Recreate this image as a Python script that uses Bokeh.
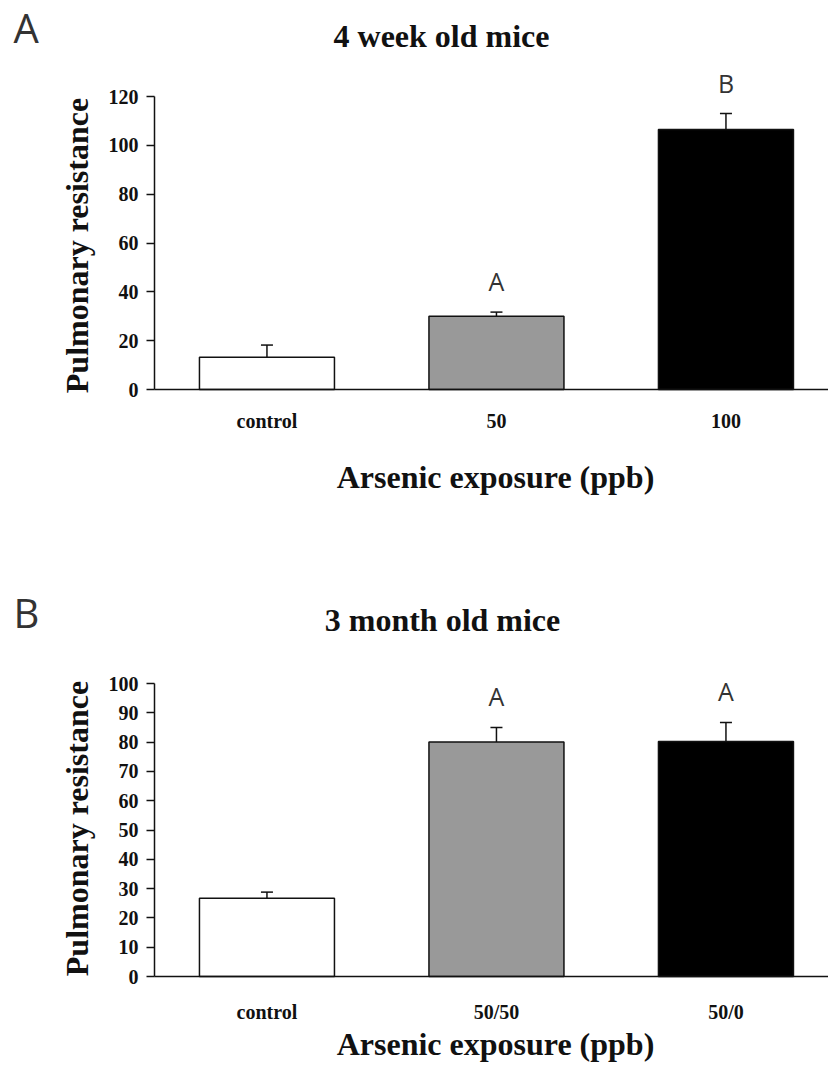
import math
from bokeh.plotting import figure
from bokeh.models import ColumnDataSource, Range1d, Label, Whisker, TeeHead, FixedTicker
from bokeh.layouts import column
from bokeh.embed import file_html
from bokeh.resources import INLINE

# ---------------- data ----------------
cats_a = ["control", "50", "100"]
vals_a = [13.2, 30.0, 106.5]
errs_a = [5.0, 1.7, 6.5]
sig_a = ["", "A", "B"]
ticks_a = [0, 20, 40, 60, 80, 100, 120]
ymax_a = 120

cats_b = ["control", "50/50", "50/0"]
vals_b = [26.7, 80.0, 80.2]
errs_b = [2.1, 5.0, 6.5]
sig_b = ["", "A", "A"]
ticks_b = [0, 10, 20, 30, 40, 50, 60, 70, 80, 90, 100]
ymax_b = 100

bar_colors = ["#ffffff", "#999999", "#000000"]

title_a = "4 week old mice"
title_b = "3 month old mice"
xlabel = "Arsenic exposure (ppb)"
ylabel = "Pulmonary resistance"

# ---------------- layout (canvas px) ----------------
FIG_W = 828
AXIS_X = 154          # canvas x of the y axis
UNIT_X = 229.5        # px per category
SERIF = "Liberation Serif"
SANS = "Open Sans"
INK = "#111111"
LIFT = 0.4            # baseline correction, in em


def make_panel(cats, vals, errs, sig, ticks, ymax, title, letter,
               fig_h, zero_y, unit_y, x_standoff, pos):
    """zero_y: local canvas y of value 0; unit_y: px per data unit."""
    x0 = -AXIS_X / UNIT_X
    x1 = (FIG_W - AXIS_X) / UNIT_X
    y0 = (zero_y - fig_h) / unit_y
    y1 = zero_y / unit_y
    p = figure(x_range=Range1d(x0, x1), y_range=Range1d(y0, y1),
               width=FIG_W, height=fig_h,
               min_border_left=0, min_border_right=0,
               min_border_top=0, min_border_bottom=0,
               output_backend="svg", toolbar_location=None)
    p.outline_line_color = None
    p.background_fill_color = "white"
    p.border_fill_color = "white"
    p.xgrid.grid_line_color = None
    p.ygrid.grid_line_color = None

    def dx(px):
        return (px - AXIS_X) / UNIT_X

    def dy(py):
        return (zero_y - py) / unit_y

    xpos = [i + 0.49 for i in range(len(cats))]
    src = ColumnDataSource(dict(
        x=xpos, vals=vals,
        upper=[v + e for v, e in zip(vals, errs)],
        colors=bar_colors,
    ))
    p.add_layout(Whisker(source=src, base="x", lower="vals", upper="upper",
                         line_color=INK, line_width=1.5,
                         upper_head=TeeHead(size=12, line_color=INK, line_width=1.5),
                         lower_head=None))
    p.vbar(x="x", top="vals", width=135 / UNIT_X, source=src,
           fill_color="colors", line_color=INK, line_width=1.5)

    # y axis (fixed at x = 0, limited to the data extent)
    p.yaxis.fixed_location = 0
    p.yaxis.bounds = (0, ymax)
    p.yaxis.ticker = FixedTicker(ticks=ticks)
    p.yaxis.axis_line_width = 1.5
    p.yaxis.axis_line_color = INK
    p.yaxis.major_tick_line_width = 1.5
    p.yaxis.major_tick_line_color = INK
    p.yaxis.major_tick_out = 8
    p.yaxis.major_tick_in = 0
    p.yaxis.minor_tick_line_color = None
    p.yaxis.major_label_standoff = 8
    p.yaxis.major_label_text_font = SERIF
    p.yaxis.major_label_text_font_style = "bold"
    p.yaxis.major_label_text_font_size = "20px"
    p.yaxis.major_label_text_color = INK

    # x axis (fixed at y = 0)
    p.xaxis.fixed_location = 0
    p.xaxis.bounds = (0, x1)
    p.xaxis.ticker = FixedTicker(ticks=xpos)
    p.xaxis.major_label_overrides = {x: c for x, c in zip(xpos, cats)}
    p.xaxis.axis_line_width = 1.5
    p.xaxis.axis_line_color = INK
    p.xaxis.major_tick_line_color = None
    p.xaxis.major_tick_out = 0
    p.xaxis.major_tick_in = 0
    p.xaxis.minor_tick_line_color = None
    p.xaxis.major_label_standoff = x_standoff
    p.xaxis.major_label_text_font = SERIF
    p.xaxis.major_label_text_font_style = "bold"
    p.xaxis.major_label_text_font_size = "20px"
    p.xaxis.major_label_text_color = INK

    # significance letters
    gap = (21 + LIFT * 25) / unit_y
    for xi, s, v, e in zip(xpos, sig, vals, errs):
        if s:
            p.add_layout(Label(x=xi, y=v + e + gap, text=s,
                               text_align="center", text_baseline="alphabetic",
                               text_font=SANS, text_font_size="25px",
                               text_color="#333333"))

    p.add_layout(Label(x=dx(pos["letter"][0]), y=dy(pos["letter"][1] - LIFT * 40), text=letter,
                       text_align="left", text_baseline="alphabetic",
                       text_font=SANS, text_font_size="40px", text_color="#333333"))
    p.add_layout(Label(x=dx(pos["title"][0]), y=dy(pos["title"][1] - LIFT * 32), text=title,
                       text_align="center", text_baseline="alphabetic",
                       text_font=SERIF, text_font_style="bold",
                       text_font_size="32px", text_color=INK))
    p.add_layout(Label(x=dx(pos["ylab"][0] - LIFT * 32), y=dy(pos["ylab"][1]), text=ylabel,
                       angle=math.pi / 2, text_align="center", text_baseline="alphabetic",
                       text_font=SERIF, text_font_style="bold",
                       text_font_size="32px", text_color=INK))
    p.add_layout(Label(x=dx(pos["xlab"][0]), y=dy(pos["xlab"][1] - LIFT * 32), text=xlabel,
                       text_align="center", text_baseline="alphabetic",
                       text_font=SERIF, text_font_style="bold",
                       text_font_size="32px", text_color=INK))
    return p


# panel A occupies canvas y 0..530, panel B 530..1063
p1 = make_panel(cats_a, vals_a, errs_a, sig_a, ticks_a, ymax_a, title_a, "A",
                fig_h=530, zero_y=389, unit_y=293 / 120, x_standoff=20,
                pos=dict(letter=(13, 43), title=(441, 48), ylab=(89, 245), xlab=(495, 489)))
B_TOP = 530
p2 = make_panel(cats_b, vals_b, errs_b, sig_b, ticks_b, ymax_b, title_b, "B",
                fig_h=533, zero_y=976 - B_TOP, unit_y=293 / 100, x_standoff=24,
                pos=dict(letter=(13, 628 - B_TOP), title=(442, 632 - B_TOP),
                         ylab=(89, 828 - B_TOP), xlab=(495, 1056 - B_TOP)))

layout = column(p1, p2, spacing=0)
open("out.html", "w").write(file_html(layout, INLINE))
